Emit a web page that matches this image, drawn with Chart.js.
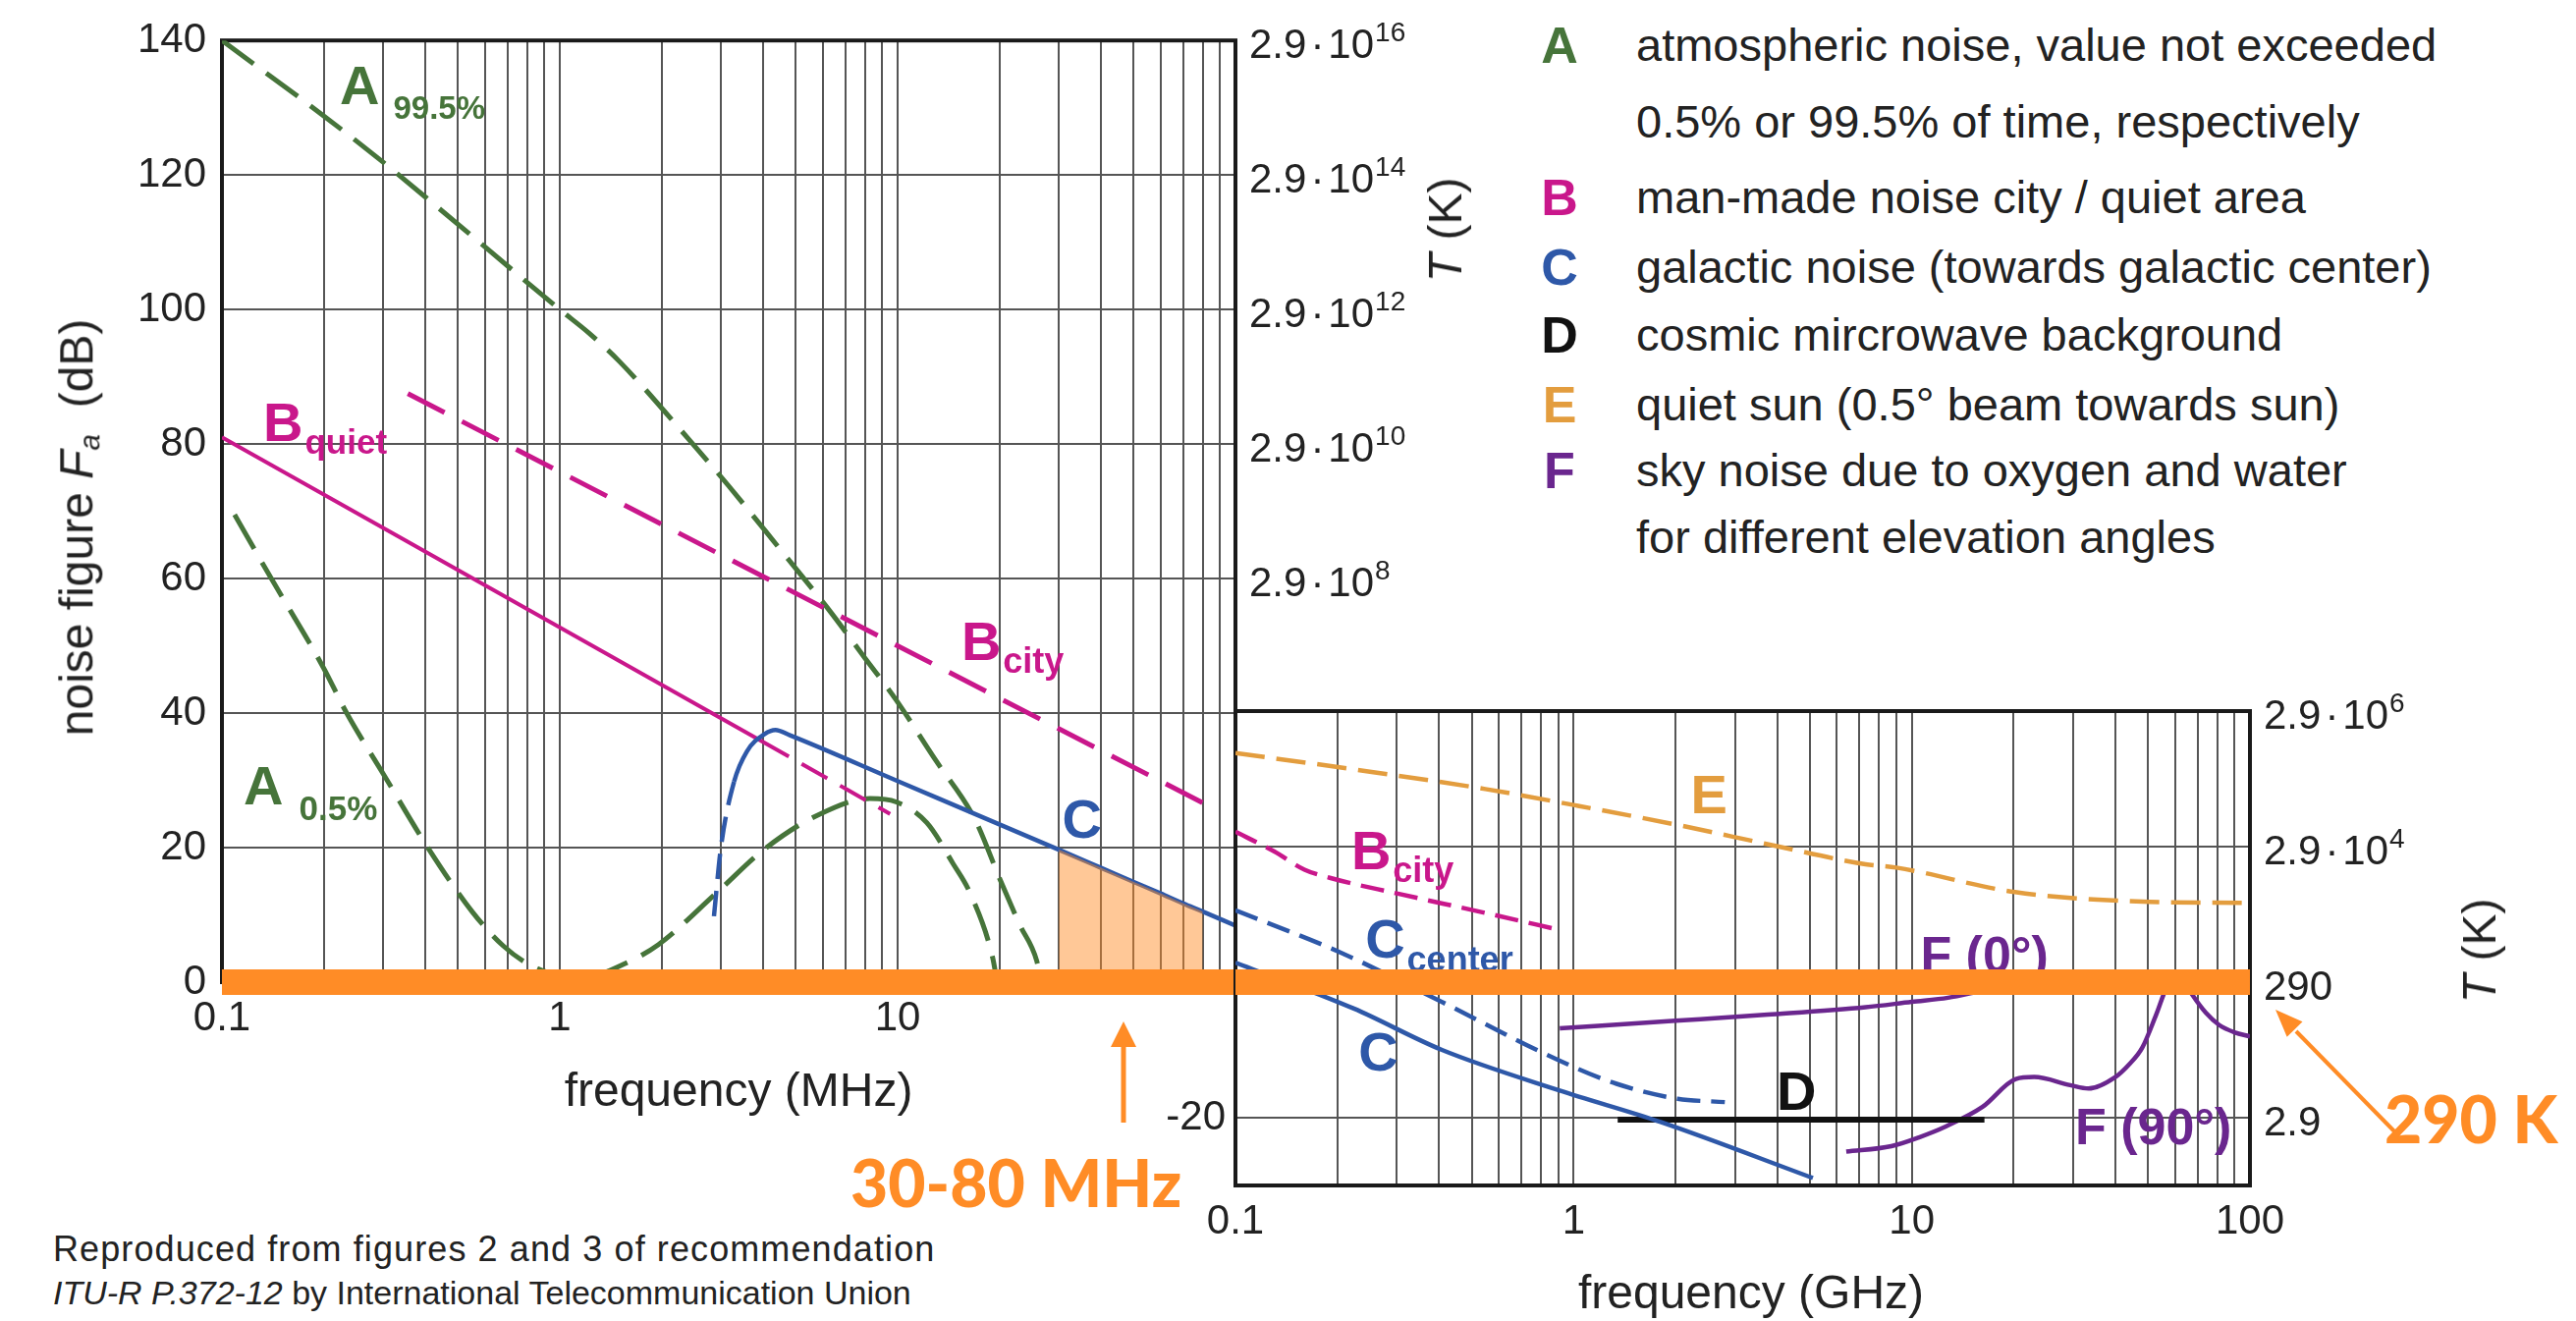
<!DOCTYPE html>
<html>
<head>
<meta charset="utf-8">
<title>Radio noise levels</title>
<script src="https://cdn.jsdelivr.net/npm/chart.js@4.4.0/dist/chart.umd.min.js"></script>
<style>
    html, body { margin: 0; padding: 0; background: #fff; }
    body { width: 2623px; height: 1345px; position: relative; overflow: hidden;
           font-family: "Liberation Sans", Arial, sans-serif; color: #222; }
    canvas { position: absolute; }
    #mhz { left: 0; top: 0; }
    #ghz { left: 1100px; top: 620px; }
    .txt { position: absolute; white-space: nowrap; line-height: 1; }
    .lg { left: 1666px; font-size: 47px; }
    .key { left: 1568px; width: 40px; text-align: center; font-size: 52px; font-weight: bold; }
    .title { font-size: 48px; }
    .title sub { font-size: 0.62em; font-style: italic; vertical-align: -0.22em; }
    .rot { transform: translate(-50%, -50%) rotate(-90deg); }
    .hc { transform: translate(-50%, 0); }
    .note { left: 54px; font-size: 36px; letter-spacing: 1.1px; }
    .note.small { font-size: 34px; letter-spacing: 0; }
    .ann { font-family: Lato, "Open Sans", sans-serif; font-weight: 900; font-size: 66px; color: #ff8c26; }
    svg { position: absolute; left: 0; top: 0; }
</style>
</head>
<body>
<canvas id="mhz" width="1500" height="1120"></canvas>
<canvas id="ghz" width="1460" height="725"></canvas>

<div class="txt key" style="top:20px;color:#46743a">A</div>
<div class="txt lg" style="top:22px">atmospheric noise, value not exceeded</div>
<div class="txt lg" style="top:100px">0.5% or 99.5% of time, respectively</div>
<div class="txt key" style="top:175px;color:#c9178b">B</div>
<div class="txt lg" style="top:177px">man-made noise city / quiet area</div>
<div class="txt key" style="top:246px;color:#2e58a8">C</div>
<div class="txt lg" style="top:248px">galactic noise (towards galactic center)</div>
<div class="txt key" style="top:315px;color:#111">D</div>
<div class="txt lg" style="top:317px">cosmic mircrowave background</div>
<div class="txt key" style="top:386px;color:#e39d3e">E</div>
<div class="txt lg" style="top:388px">quiet sun (0.5° beam towards sun)</div>
<div class="txt key" style="top:453px;color:#6a268e">F</div>
<div class="txt lg" style="top:455px">sky noise due to oxygen and water</div>
<div class="txt lg" style="top:523px">for different elevation angles</div>

<div class="txt title rot" style="left:80px;top:537px">noise figure <i>F</i><sub>a</sub>&nbsp; (dB)</div>
<div class="txt title rot" style="left:1472px;top:234px"><i>T</i> (K)</div>
<div class="txt title rot" style="left:2525px;top:968px"><i>T</i> (K)</div>
<div class="txt title hc" style="left:752px;top:1086px">frequency (MHz)</div>
<div class="txt title hc" style="left:1783px;top:1292px">frequency (GHz)</div>

<div class="txt note" style="top:1254px">Reproduced from figures 2 and 3 of recommendation</div>
<div class="txt note small" style="top:1299px"><i>ITU-R P.372-12</i> by International Telecommunication Union</div>

<div class="txt ann" style="left:866px;top:1171px">30-80 MHz</div>
<div class="txt ann" style="left:2428px;top:1106px">290 K</div>

<svg width="2623" height="1345">
    <line x1="1144" y1="1143" x2="1144" y2="1062" stroke="#ff8c26" stroke-width="5"/>
    <polygon points="1144,1040 1131,1066 1157,1066" fill="#ff8c26"/>
    <line x1="2443" y1="1157" x2="2338" y2="1050" stroke="#ff8c26" stroke-width="4"/>
    <polygon points="2317,1028 2344.5,1040.3 2328.7,1055.7" fill="#ff8c26"/>
</svg>

<script>
const GREEN = '#46743a', MAGENTA = '#c9178b', BLUE = '#2e58a8', SUN = '#e39d3e';
const PURPLE = '#6a268e', ORANGE = '#ff8c26', GRID = '#555555';

// ---- left panel, frequency in MHz, noise figure in dB ----
const mhzLabels = [0.1, 1, 10];
const dbLabels = [0, 20, 40, 60, 80, 100, 120, 140];
const atmHiMHz = [0.1, 0.2, 0.3, 0.44, 1, 1.22, 1.5, 2.4, 3.17, 4.5, 6.14, 8, 9.85, 13, 16.9, 20.2, 23, 25.8, 26.6];
const atmHiDb = [140, 128.8, 121.9, 115, 100, 96.5, 92.3, 80.8, 73.7, 64.3, 55.9, 48.2, 42.1, 32.9, 24.3, 15, 8.5, 3.2, 0];
const atmLoMHz = [0.109, 0.14, 0.2, 0.234, 0.3, 0.407, 0.55, 0.68, 0.82, 1.0, 1.2, 1.55, 1.96, 2.9, 4.04, 5.78, 8.28, 9.9, 12.2, 14.6, 16.4, 19.1, 19.7];
const atmLoDb = [69.5, 60, 46.7, 40, 31, 20, 10.5, 5.4, 2.5, 1.0, 0.8, 2.7, 5.6, 13.2, 19.8, 24.8, 27.3, 26.8, 23.7, 17.6, 13.2, 3.7, 0];
const quietMHz = [0.1, 4, 9.5];
const quietDb = [81, 35.7, 25];
const cityMHz = [0.355, 82.6];
const cityDb = [87.5, 26.3];
const galMHz = [2.86, 3.0, 3.28, 3.58, 4.04, 4.35, 4.8, 10, 30, 40, 50, 60, 70, 80, 100];
const galDb = [9.8, 20.1, 29.8, 34.3, 36.9, 37.5, 36.7, 29.9, 19.7, 17.0, 14.9, 13.2, 11.7, 10.5, 8.4];
const bandMHz = [30, 80];

// ---- right panel, frequency in GHz ----
const ghzLabels = [0.1, 1, 10, 100];
const cityGHz = [0.1, 0.13, 0.16, 0.19, 0.3, 0.55, 0.91];
const cityGHzDb = [22.2, 19.3, 16.6, 15.4, 13.1, 10.2, 7.7];
const galCenterGHz = [0.1, 0.205, 0.407, 0.91, 1.34, 2.03, 2.8];
const galCenterDb = [10.6, 4.35, -2.9, -11.6, -15, -17.2, -17.7];
const galGHz = [0.1, 0.224, 0.408, 0.91, 1.8, 5.1];
const galGHzDb = [2.9, -3.9, -10.0, -16.0, -20.6, -28.9];
const cmbGHz = [1.35, 16.4];
const cmbDb = [-20.3, -20.3];
const sunGHz = [0.1, 0.224, 0.548, 1.01, 2.03, 3.8, 7.3, 9, 20.2, 50.5, 100];
const sunDb = [33.8, 31.4, 28.5, 26.1, 23.2, 20.3, 17.4, 16.9, 13.3, 11.85, 11.7];
const sky0GHz = [0.91, 2, 3.75, 7.3, 10, 12.8, 16.9, 21, 30, 60, 100];
const sky0Db = [-6.8, -5.7, -4.8, -3.7, -2.9, -2.3, -1.1, -0.5, 0.3, 0.6, 0.5];
const sky90GHz = [6.4, 8.7, 10.5, 12.6, 16.2, 20.3, 23, 29.4, 33.3, 40, 44, 48, 52.8, 56.5, 60, 62.5, 65, 67.6, 74, 81, 90, 100];
const sky90Db = [-25, -24.2, -22.9, -21.3, -18.4, -14.3, -14, -15.2, -15.7, -14, -12.1, -9.7, -4.8, -1, 0.5, 0.5, -0.5, -1.9, -4.5, -6.3, -7.4, -8];

// 290 K reference level and temperature scale marks (dB)
const refLevelDb = 0;
const tempTicksLeft = [60, 80, 100, 120, 140];
const tempTicksRight = [-20, 0, 20, 40];

Chart.defaults.font.family = '"Liberation Sans", Arial, sans-serif';

function pts(xs, ys) {
    return xs.map((x, i) => ({ x: x, y: ys[i] }));
}

function curve(xs, ys, color, width, dash, extra) {
    return Object.assign({
        type: 'line',
        data: pts(xs, ys),
        borderColor: color,
        borderWidth: width,
        borderDash: dash || [],
        pointRadius: 0,
        fill: false,
        cubicInterpolationMode: 'monotone',
        order: 2
    }, extra || {});
}

function refLine(xMin, xMax) {
    return {
        type: 'line',
        data: [{ x: xMin, y: refLevelDb }, { x: xMax, y: refLevelDb }],
        borderColor: ORANGE,
        borderWidth: 26,
        borderCapStyle: 'butt',
        pointRadius: 0,
        clip: false,
        order: 0
    };
}

// grid at 1..9 of every decade
function logTicks(min, max) {
    let out = [];
    for (let e = Math.round(Math.log10(min)); e < Math.round(Math.log10(max)); e++) {
        for (let k = 1; k <= 9; k++) {
            out.push({ value: +(k * Math.pow(10, e)).toPrecision(6) });
        }
    }
    out.push({ value: max });
    return out;
}

// frame, curve labels and the kelvin scale next to each panel
function makeDeco(notes, temps) {
    return {
        id: 'deco',
        beforeDatasetsDraw(chart) {
            const { ctx, chartArea: a, scales } = chart;
            ctx.save();
            ctx.lineWidth = 4;
            ctx.strokeStyle = '#1a1a1a';
            ctx.strokeRect(a.left, a.top, a.right - a.left, a.bottom - a.top);
            ctx.textBaseline = 'alphabetic';
            for (const n of notes) {
                ctx.fillStyle = n.color;
                let x = scales.x.getPixelForValue(n.x);
                const y = scales.y.getPixelForValue(n.y);
                for (const p of n.parts) {
                    x += p[3] || 0;
                    ctx.font = 'bold ' + p[1] + 'px "Liberation Sans"';
                    ctx.fillText(p[0], x, y + p[2]);
                    x += ctx.measureText(p[0]).width;
                }
            }
            ctx.restore();
        },
        afterDraw(chart) {
            const { ctx, chartArea: a, scales } = chart;
            ctx.save();
            ctx.fillStyle = '#222';
            ctx.textBaseline = 'alphabetic';
            for (const db of temps) {
                const y = scales.y.getPixelForValue(db) + 18;
                let x = a.right + 14;
                // T = 290 K * 10^(F/10) = 2.9 * 10^(F/10 + 2)
                const e = db / 10 + 2;
                ctx.font = '42px "Liberation Sans"';
                if (e === 2) { ctx.fillText('290', x, y); continue; }
                ctx.fillText('2.9', x, y);
                if (e === 0) continue;
                x += ctx.measureText('2.9').width + 4;
                ctx.fillText('\u00b7', x, y);
                x += ctx.measureText('\u00b7').width + 4;
                ctx.fillText('10', x, y);
                x += ctx.measureText('10').width + 1;
                ctx.font = '28px "Liberation Sans"';
                ctx.fillText(String(e), x, y - 17);
            }
            ctx.restore();
        }
    };
}

function panelOptions(o) {
    const isLabel = (list, v) => list.some(t => Math.abs(t - v) < 1e-9 * Math.max(1, Math.abs(t)));
    return {
        responsive: false,
        animation: false,
        devicePixelRatio: 1,
        layout: { padding: o.padding },
        plugins: { legend: { display: false }, tooltip: { enabled: false } },
        scales: {
            x: {
                type: 'logarithmic',
                min: o.xMin,
                max: o.xMax,
                afterBuildTicks: s => { s.ticks = logTicks(o.xMin, o.xMax); },
                afterFit: s => { s.height = 70; },
                grid: { color: GRID, lineWidth: 2, drawTicks: false },
                border: { display: false },
                ticks: {
                    autoSkip: false, maxRotation: 0, padding: 12,
                    font: { size: 42 }, color: '#222',
                    callback: v => isLabel(o.xLabels, v) ? String(v) : ''
                }
            },
            y: {
                type: 'linear',
                min: o.yMin,
                max: o.yMax,
                afterBuildTicks: s => { s.ticks = o.yGrid.map(v => ({ value: v })); },
                afterFit: s => { s.width = o.yWidth; },
                grid: { color: GRID, lineWidth: 2, drawTicks: false },
                border: { display: false },
                ticks: {
                    padding: o.yPad, font: { size: 42 }, color: '#222',
                    callback: v => o.yLabels.includes(v) ? String(v) : ''
                }
            }
        }
    };
}

const mhzNotes = [
    { x: 0.2233, y: 130.6, color: GREEN, parts: [['A', 56, 0], ['99.5%', 33, 15, 14]] },
    { x: 0.1325, y: 80.5, color: MAGENTA, parts: [['B', 56, 0], ['quiet', 35, 13, 2]] },
    { x: 0.1159, y: 26.5, color: GREEN, parts: [['A', 56, 0], ['0.5%', 35, 16, 16]] },
    { x: 15.44, y: 47.9, color: MAGENTA, parts: [['B', 56, 0], ['city', 36, 13, 2]] },
    { x: 30.7, y: 21.5, color: BLUE, parts: [['C', 56, 0]] }
];
const ghzNotes = [
    { x: 2.22, y: 25.0, color: SUN, parts: [['E', 56, 0]] },
    { x: 0.22, y: 16.7, color: MAGENTA, parts: [['B', 56, 0], ['city', 36, 13, 2]] },
    { x: 0.242, y: 3.6, color: BLUE, parts: [['C', 56, 0], ['center', 36, 14, 2]] },
    { x: 0.231, y: -13.1, color: BLUE, parts: [['C', 56, 0]] },
    { x: 3.98, y: -18.9, color: '#111', parts: [['D', 56, 0]] },
    { x: 10.6, y: 1.45, color: PURPLE, parts: [['F (0°)', 52, 0]] },
    { x: 30.4, y: -23.9, color: PURPLE, parts: [['F (90°)', 52, 0]] }
];

const band = pts(galMHz, galDb).filter(p => p.x >= bandMHz[0] && p.x <= bandMHz[1]);

new Chart(document.getElementById('mhz'), {
    type: 'line',
    data: {
        datasets: [
            refLine(0.1, 100),
            {
                type: 'line', data: band, borderWidth: 0, pointRadius: 0,
                backgroundColor: 'rgba(255, 140, 38, 0.48)', fill: 'origin',
                cubicInterpolationMode: 'monotone', order: 1
            },
            curve(galMHz, galDb, BLUE, 4.5, [], {
                segment: { borderDash: ctx => ctx.p1.parsed.x <= 3.28 ? [26, 12] : undefined }
            }),
            curve(quietMHz, quietDb, MAGENTA, 4, [], {
                segment: { borderDash: ctx => ctx.p0.parsed.x >= 4 ? [30, 15] : undefined }
            }),
            curve(cityMHz, cityDb, MAGENTA, 5, [42, 20]),
            curve(atmHiMHz, atmHiDb, GREEN, 5, [40, 16]),
            curve(atmLoMHz, atmLoDb, GREEN, 5, [40, 16])
        ]
    },
    options: panelOptions({
        xMin: 0.1, xMax: 100, xLabels: mhzLabels,
        yMin: 0, yMax: 140, yGrid: dbLabels, yLabels: dbLabels,
        yWidth: 226, yPad: 16,
        padding: { top: 35, left: 0, right: 242, bottom: 50 }
    }),
    plugins: [makeDeco(mhzNotes, tempTicksLeft)]
});

new Chart(document.getElementById('ghz'), {
    type: 'line',
    data: {
        datasets: [
            refLine(0.1, 100),
            curve(sunGHz, sunDb, SUN, 4.5, [30, 12]),
            curve(cityGHz, cityGHzDb, MAGENTA, 4.5, [24, 11]),
            curve(galCenterGHz, galCenterDb, BLUE, 4.5, [24, 11]),
            curve(galGHz, galGHzDb, BLUE, 4.5),
            curve(cmbGHz, cmbDb, '#111', 6),
            curve(sky0GHz, sky0Db, PURPLE, 4.5),
            curve(sky90GHz, sky90Db, PURPLE, 4.5)
        ]
    },
    options: panelOptions({
        xMin: 0.1, xMax: 100, xLabels: ghzLabels,
        yMin: -30, yMax: 40, yGrid: [-30, -20, 0, 20, 40], yLabels: [-20],
        yWidth: 158, yPad: 10,
        padding: { top: 104, left: 0, right: 269, bottom: 68 }
    }),
    plugins: [makeDeco(ghzNotes, tempTicksRight)]
});
</script>
</body>
</html>
